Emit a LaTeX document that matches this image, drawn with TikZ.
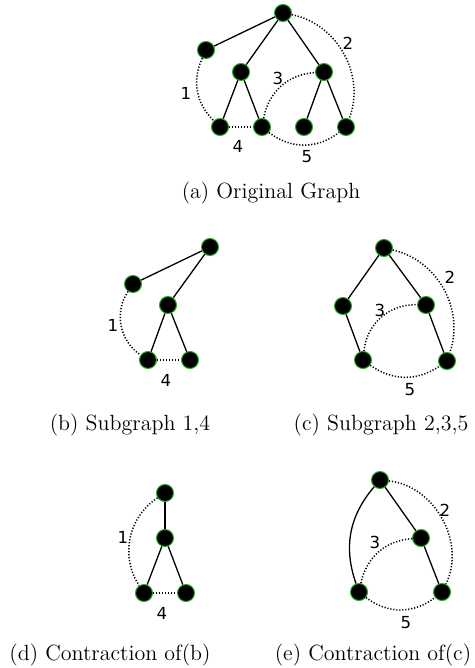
\documentclass[tikz,border=0pt]{standalone}
\usepackage{fontspec}
\usepackage{xcolor}
\usepackage{tikz}
\usetikzlibrary{positioning}
\newfontfamily\numfont{DejaVu Sans}
\definecolor{rimgreen}{RGB}{40,170,40}

\begin{document}
\begin{tikzpicture}[x=0.5pt,y=-0.5pt,
  vtx/.style={circle,fill=black,draw=rimgreen,line width=0.5pt,minimum size=8.5pt,inner sep=0pt},
  tree/.style={line width=0.65pt},
  cut/.style={line width=0.75pt,dash pattern=on 0.6pt off 0.9pt},
  num/.style={font=\numfont\fontsize{8.3}{10}\selectfont},
  subcap/.style={font=\fontsize{11}{13}\selectfont}]
\useasboundingbox (0,0) rectangle (475,668);

% (a) original graph
\node[vtx] (ar) at (283,13) {};
\node[vtx] (aw) at (206,50) {};
\node[vtx] (ap) at (241,72) {};
\node[vtx] (aq) at (324,72) {};
\node[vtx] (ap1) at (220,127) {};
\node[vtx] (ap2) at (262,127) {};
\node[vtx] (aq1) at (304,127) {};
\node[vtx] (aq2) at (346,127) {};
\draw[tree] (ar) -- (aw);
\draw[tree] (ar) -- (ap);
\draw[tree] (ar) -- (aq);
\draw[tree] (ap) -- (ap1);
\draw[tree] (ap) -- (ap2);
\draw[tree] (aq) -- (aq1);
\draw[tree] (aq) -- (aq2);
\draw[cut] (aw) to[bend right=35] (ap1);
\draw[cut] (ar) to[bend left=50] (aq2);
\draw[cut] (ap2) to[bend left=38] (aq);
\draw[cut] (ap1) -- (ap2);
\draw[cut] (ap2) to[bend right=38] (aq2);
\node[num] (al1) at (186,93) {1};
\node[num] (al2) at (348,43) {2};
\node[num] (al3) at (278,78) {3};
\node[num] (al4) at (238,146) {4};
\node[num] (al5) at (307,157) {5};
\node[subcap] (acap) at (271,193) {(a) Original Graph};

% (b) subgraph 1,4
\node[vtx] (bt) at (210,247) {};
\node[vtx] (bw) at (133,284) {};
\node[vtx] (bm) at (168,305) {};
\node[vtx] (b1) at (148,360) {};
\node[vtx] (b2) at (190,360) {};
\draw[tree] (bt) -- (bw);
\draw[tree] (bt) -- (bm);
\draw[tree] (bm) -- (b1);
\draw[tree] (bm) -- (b2);
\draw[cut] (bw) to[bend right=45] (b1);
\draw[cut] (b1) -- (b2);
\node[num] (bl1) at (113,325) {1};
\node[num] (bl4) at (166,380) {4};
\node[subcap] (bcap) at (130,425) {(b) Subgraph 1,4};

% (c) subgraph 2,3,5
\node[vtx] (ct) at (384,248) {};
\node[vtx] (cl) at (343,306) {};
\node[vtx] (cr) at (426,305) {};
\node[vtx] (c1) at (363,360) {};
\node[vtx] (c2) at (447,361) {};
\draw[tree] (ct) -- (cl);
\draw[tree] (ct) -- (cr);
\draw[tree] (cl) -- (c1);
\draw[tree] (cr) -- (c2);
\draw[cut] (ct) to[bend left=48] (c2);
\draw[cut] (c1) to[bend left=43] (cr);
\draw[cut] (c1) to[bend right=35] (c2);
\node[num] (cl2) at (450,277) {2};
\node[num] (cl3) at (380,310) {3};
\node[num] (cl5) at (410,390) {5};
\node[subcap] (ccap) at (381,425) {(c) Subgraph 2,3,5};

% (d) contraction of (b)
\node[vtx] (dt) at (165,493) {};
\node[vtx] (dm) at (165,538) {};
\node[vtx] (d1) at (144,593) {};
\node[vtx] (d2) at (186,593) {};
\draw[tree] (dt) -- (dm);
\draw[tree] (dm) -- (d1);
\draw[tree] (dm) -- (d2);
\draw[cut] (dt) to[bend right=45] (d1);
\draw[cut] (d1) -- (d2);
\node[num] (dl1) at (123,537) {1};
\node[num] (dl4) at (162,613) {4};
\node[subcap] (dcap) at (110,655) {(d) Contraction of(b)};

% (e) contraction of (c)
\node[vtx] (et) at (380,480) {};
\node[vtx] (em) at (421,538) {};
\node[vtx] (e1) at (359,592) {};
\node[vtx] (e2) at (442,592) {};
\draw[tree] (et) -- (em);
\draw[tree] (em) -- (e2);
\draw[tree] (et) to[bend right=30] (e1);
\draw[cut] (et) to[bend left=55] (e2);
\draw[cut] (e1) to[bend left=37] (em);
\draw[cut] (e1) to[bend right=38] (e2);
\node[num] (el2) at (445,510) {2};
\node[num] (el3) at (375,542) {3};
\node[num] (el5) at (406,623) {5};
\node[subcap] (ecap) at (373,655) {(e) Contraction of(c)};
\end{tikzpicture}
\end{document}
